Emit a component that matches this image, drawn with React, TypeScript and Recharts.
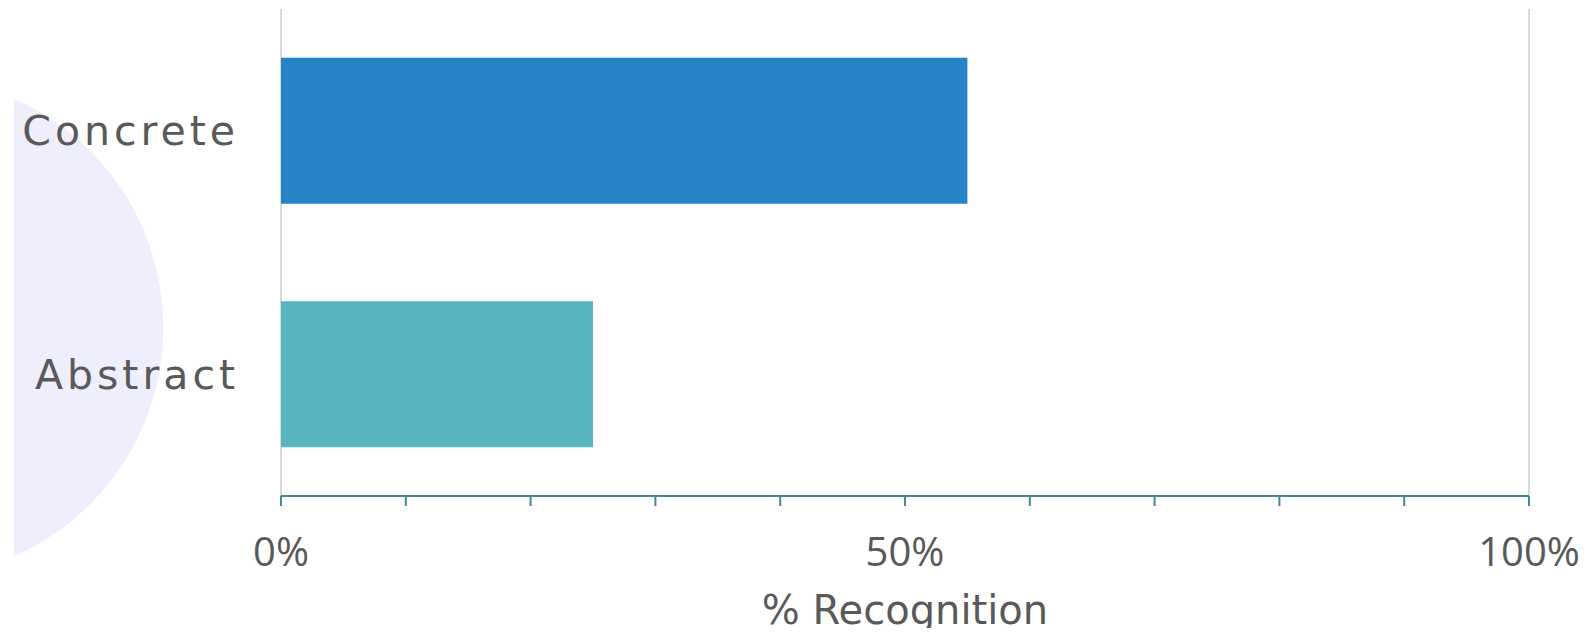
import React from 'react';
import { BarChart, Bar, XAxis, YAxis, CartesianGrid, Cell } from 'recharts';

const categories = ['Concrete', 'Abstract'];
const recognition = [55, 25];
const barColors = ['#2683C6', '#58B5BF'];
const xTicks = [0, 10, 20, 30, 40, 50, 60, 70, 80, 90, 100];
const gridTicks = [0, 50, 100];
const labeledTicks = [0, 50, 100];

const data = categories.map((name, i) => ({ name, value: recognition[i] }));

const TEXT = '#595959';
const AXIS = '#3F8A8E';

export default function App() {
  return (
    <div style={{ position: 'relative', width: 1579, height: 620 }}>
      <svg
        width={200}
        height={620}
        style={{ position: 'absolute', left: 6, top: 0 }}
      >
        <circle cx={-100.7} cy={319.5} r={250} fill="#EFEEFD" />
      </svg>
      <div style={{ position: 'absolute', left: 0, top: 0, height: 628 }}>
        <BarChart
          width={1579}
          height={628}
          data={data}
          layout="vertical"
          margin={{ top: 1, right: 58, bottom: 0, left: 0 }}
          barCategoryGap="20%"
        >
          <XAxis
            xAxisId="grid"
            type="number"
            domain={[0, 100]}
            ticks={gridTicks}
            hide
          />
          <CartesianGrid
            xAxisId="grid"
            horizontal={false}
            stroke="#D9D9D9"
            strokeWidth={2}
          />
          <XAxis
            type="number"
            domain={[0, 100]}
            ticks={xTicks}
            interval={0}
            height={140}
            tickSize={10}
            tickMargin={32}
            axisLine={{ stroke: AXIS, strokeWidth: 2 }}
            tickLine={{ stroke: AXIS, strokeWidth: 2 }}
            tickFormatter={(v: number) => (labeledTicks.includes(v) ? `${v}%` : '')}
            tick={{ fill: TEXT, fontSize: 40, fontFamily: 'Open Sans' }}
            label={{
              value: '% Recognition',
              position: 'insideBottom',
              offset: 12,
              fill: TEXT,
              fontSize: 40,
              fontFamily: 'DejaVu Sans',
            }}
          />
          <YAxis
            type="category"
            dataKey="name"
            width={273}
            axisLine={false}
            tickLine={false}
            tickSize={0}
            tickMargin={42}
            tick={{
              fill: TEXT,
              fontSize: 41,
              fontFamily: 'DejaVu Sans',
              letterSpacing: 4,
            }}
          />
          <Bar dataKey="value" isAnimationActive={false}>
            {data.map((d, i) => (
              <Cell key={d.name} fill={barColors[i]} />
            ))}
          </Bar>
        </BarChart>
      </div>
    </div>
  );
}
